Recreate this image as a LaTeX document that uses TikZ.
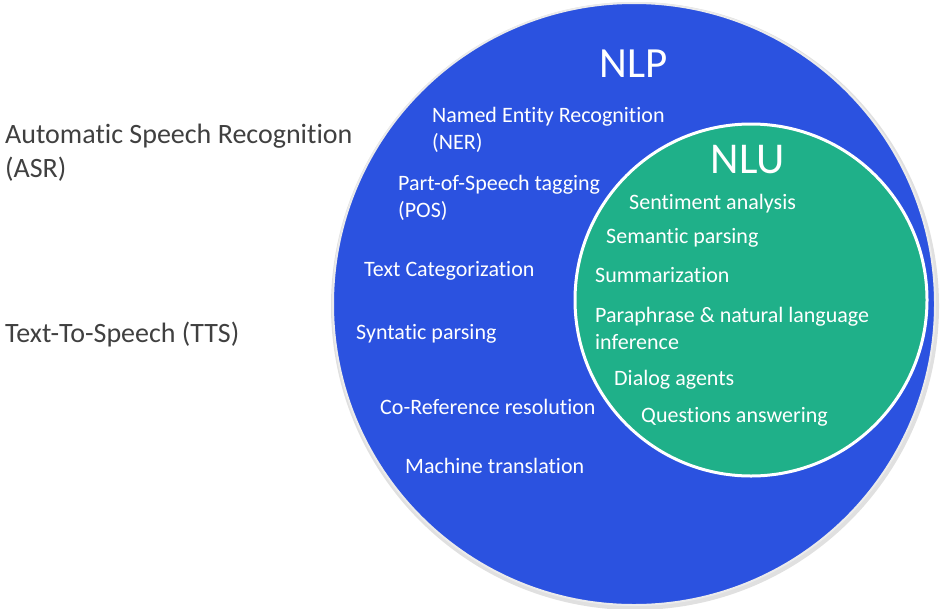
\documentclass[tikz,border=0pt]{standalone}
\usepackage{fontspec}
\setmainfont{Carlito}[Ligatures=NoCommon]
\definecolor{nlpblue}{RGB}{43,82,224}
\definecolor{nlugreen}{RGB}{31,176,137}
\definecolor{labelgray}{RGB}{64,64,64}
\begin{document}
\begin{tikzpicture}[x=1pt,y=-1pt,
  item/.style={anchor=base west,inner sep=0pt,text=white,font=\fontsize{22}{27}\selectfont,align=left},
  side/.style={anchor=base west,inner sep=0pt,text=labelgray,font=\fontsize{28}{34}\selectfont,align=left},
  title/.style={anchor=base,inner sep=0pt,text=white}]
\useasboundingbox (0,0) rectangle (941,608);
% outer NLP disc with a soft rim
\fill[black!12] (635,306) circle (304);
\node[circle,fill=nlpblue,draw=white!92!black,line width=2pt,minimum size=602pt,inner sep=0pt] (nlp) at (634,304) {};
% inner NLU disc
\node[circle,fill=nlugreen,draw=white,line width=3pt,minimum size=352pt,inner sep=0pt] (nlu) at (751,300) {};
% titles
\node[title,font=\fontsize{43}{46}\selectfont] (tnlp) at (634,77) {NLP};
\node[title,font=\fontsize{44}{48}\selectfont] (tnlu) at (748,173) {NLU};
% NLP tasks (multi-line nodes are placed by their last baseline)
\node[item] (ner) at (432,149) {Named Entity Recognition\\(NER)};
\node[item] (pos) at (398,217) {Part-of-Speech tagging\\(POS)};
\node[item] (tc) at (364,276) {Text Categorization};
\node[item] (sp) at (356,339) {Syntatic parsing};
\node[item] (cr) at (380,414) {Co-Reference resolution};
\node[item] (mt) at (405,473) {Machine translation};
% NLU tasks
\node[item] (sa) at (629,209) {Sentiment analysis};
\node[item] (sem) at (606,243) {Semantic parsing};
\node[item] (sum) at (595,282) {Summarization};
\node[item] (para) at (595,349) {Paraphrase \& natural language\\inference};
\node[item] (dia) at (614,385) {Dialog agents};
\node[item] (qa) at (641,422) {Questions answering};
% speech tasks outside the circle
\node[side] (asr) at (5,177) {Automatic Speech Recognition\\(ASR)};
\node[side] (tts) at (5,342) {Text-To-Speech (TTS)};
\end{tikzpicture}
\end{document}
